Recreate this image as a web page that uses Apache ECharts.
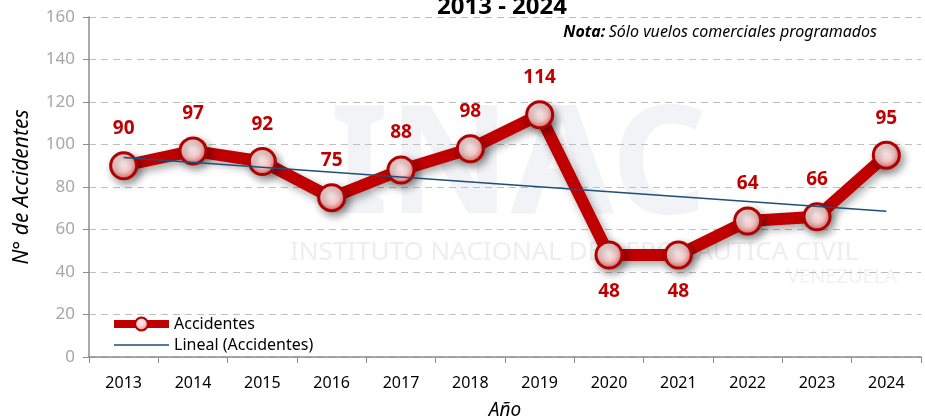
<!DOCTYPE html>
<html>
<head>
<meta charset="utf-8">
<script src="https://cdn.jsdelivr.net/npm/echarts@6/dist/echarts.min.js"></script>
<style>
  html, body { margin: 0; padding: 0; background: #fff; }
  #main { width: 925px; height: 418px; }
</style>
</head>
<body>
<div id="main"></div>
<script>
// datos del gráfico
var years = ['2013', '2014', '2015', '2016', '2017', '2018', '2019', '2020', '2021', '2022', '2023', '2024'];
var accidentes = [90, 97, 92, 75, 88, 98, 114, 48, 48, 64, 66, 95];
// tendencia lineal (inicio 2013, fin 2024)
var lineal = [93.9, null, null, null, null, null, null, null, null, null, null, 68.6];
// etiquetas que van debajo del punto
var etiquetaAbajo = ['2020', '2021'];

var fontFam = '"Noto Sans", "Open Sans", sans-serif';
var rojo = '#C00000';
var azul = '#1F4E79';

var chartDom = document.getElementById('main');
var myChart = echarts.init(chartDom);

var accData = accidentes.map(function (v, i) {
    if (etiquetaAbajo.indexOf(years[i]) >= 0) {
        return { value: v, label: { position: 'bottom' } };
    }
    return v;
});

var option = {
    animation: false,
    textStyle: { fontFamily: fontFam },
    title: {
        text: '2013 - 2024',
        left: 497,
        textAlign: 'center',
        top: -10,
        textStyle: { fontSize: 24, fontWeight: 'bold', color: '#000', fontFamily: fontFam }
    },
    graphic: [
        // marca de agua INAC
        {
            type: 'text', left: 330, top: 95, z: 0, silent: true,
            style: { text: 'INAC', fontSize: 150, fontWeight: 'bold', fill: 'rgba(210,216,228,0.3)', fontFamily: fontFam }
        },
        {
            type: 'text', left: 290, top: 240, z: 0, silent: true,
            style: { text: 'INSTITUTO NACIONAL DE AERONAUTICA CIVIL', fontSize: 26, fill: 'rgba(200,200,200,0.3)', fontFamily: fontFam }
        },
        {
            type: 'text', right: 28, top: 267, z: 0, silent: true,
            style: { text: 'VENEZUELA', fontSize: 20, fill: 'rgba(200,200,200,0.25)', fontFamily: fontFam }
        },
        {
            type: 'text', right: 48, top: 24, z: 10,
            style: {
                text: '{b|Nota:} {i|Sólo vuelos comerciales programados}',
                rich: {
                    b: { fontSize: 16, fontWeight: 'bold', fontStyle: 'italic', fill: '#000', fontFamily: fontFam },
                    i: { fontSize: 16, fontStyle: 'italic', fill: '#000', fontFamily: fontFam }
                }
            }
        }
    ],
    legend: {
        orient: 'vertical',
        left: 105,
        top: 311,
        itemGap: 5,
        itemWidth: 55,
        itemHeight: 16,
        textStyle: { fontSize: 16, color: '#000', fontFamily: fontFam },
        data: [
            { name: 'Accidentes', lineStyle: { width: 8, color: rojo } },
            {
                name: 'Lineal (Accidentes)',
                icon: 'path://M0,0 M55,16 M0,7.2 L55,7.2 L55,8.8 L0,8.8 Z',
                itemStyle: { color: azul },
                lineStyle: { width: 1.5, color: azul }
            }
        ]
    },
    grid: {
        left: 89,
        right: 4,
        top: 17,
        bottom: 61,
        outerBoundsMode: 'none',
        containLabel: false
    },
    xAxis: {
        type: 'category',
        data: years,
        boundaryGap: true,
        name: 'Año',
        nameLocation: 'middle',
        nameGap: 44,
        nameTextStyle: { fontSize: 19, fontStyle: 'italic', color: '#000', fontFamily: fontFam },
        axisLine: { lineStyle: { color: '#8C8C8C', width: 1.5 } },
        axisTick: { show: true, length: 6, lineStyle: { color: '#8C8C8C' } },
        axisLabel: { fontSize: 16, color: '#000', margin: 18 }
    },
    yAxis: {
        type: 'value',
        min: 0,
        max: 160,
        interval: 20,
        name: 'N° de Accidentes',
        nameLocation: 'middle',
        nameGap: 56,
        nameTextStyle: { fontSize: 21, fontStyle: 'italic', color: '#000', fontFamily: fontFam },
        axisLine: { show: true, lineStyle: { color: '#8C8C8C', width: 1.5 } },
        axisTick: { show: true, length: 6, lineStyle: { color: '#8C8C8C' } },
        axisLabel: { fontSize: 17, color: '#A6A6A6', margin: 14 },
        splitLine: { show: true, lineStyle: { color: '#BFBFBF', type: [7, 5], width: 1.2 } }
    },
    series: [
        {
            name: 'Accidentes',
            type: 'line',
            data: accData,
            z: 3,
            symbol: 'circle',
            symbolSize: 26,
            lineStyle: {
                width: 12,
                color: rojo,
                shadowColor: 'rgba(0,0,0,0.35)',
                shadowBlur: 8,
                shadowOffsetX: 3,
                shadowOffsetY: 4
            },
            itemStyle: {
                color: {
                    type: 'radial', x: 0.45, y: 0.4, r: 0.6,
                    colorStops: [
                        { offset: 0, color: '#FFF3F3' },
                        { offset: 0.55, color: '#F4C6C6' },
                        { offset: 1, color: '#D86060' }
                    ]
                },
                borderColor: '#B00000',
                borderWidth: 3,
                shadowColor: 'rgba(0,0,0,0.4)',
                shadowBlur: 8,
                shadowOffsetX: 3,
                shadowOffsetY: 4
            },
            label: {
                show: true,
                position: 'top',
                distance: 13,
                fontSize: 19,
                fontWeight: 'bold',
                color: rojo,
                fontFamily: fontFam
            }
        },
        {
            name: 'Lineal (Accidentes)',
            type: 'line',
            data: lineal,
            connectNulls: true,
            z: 4,
            symbol: 'none',
            lineStyle: { width: 1.5, color: azul },
            itemStyle: { color: azul },
            label: { show: false }
        }
    ]
};

option && myChart.setOption(option);
</script>
</body>
</html>
